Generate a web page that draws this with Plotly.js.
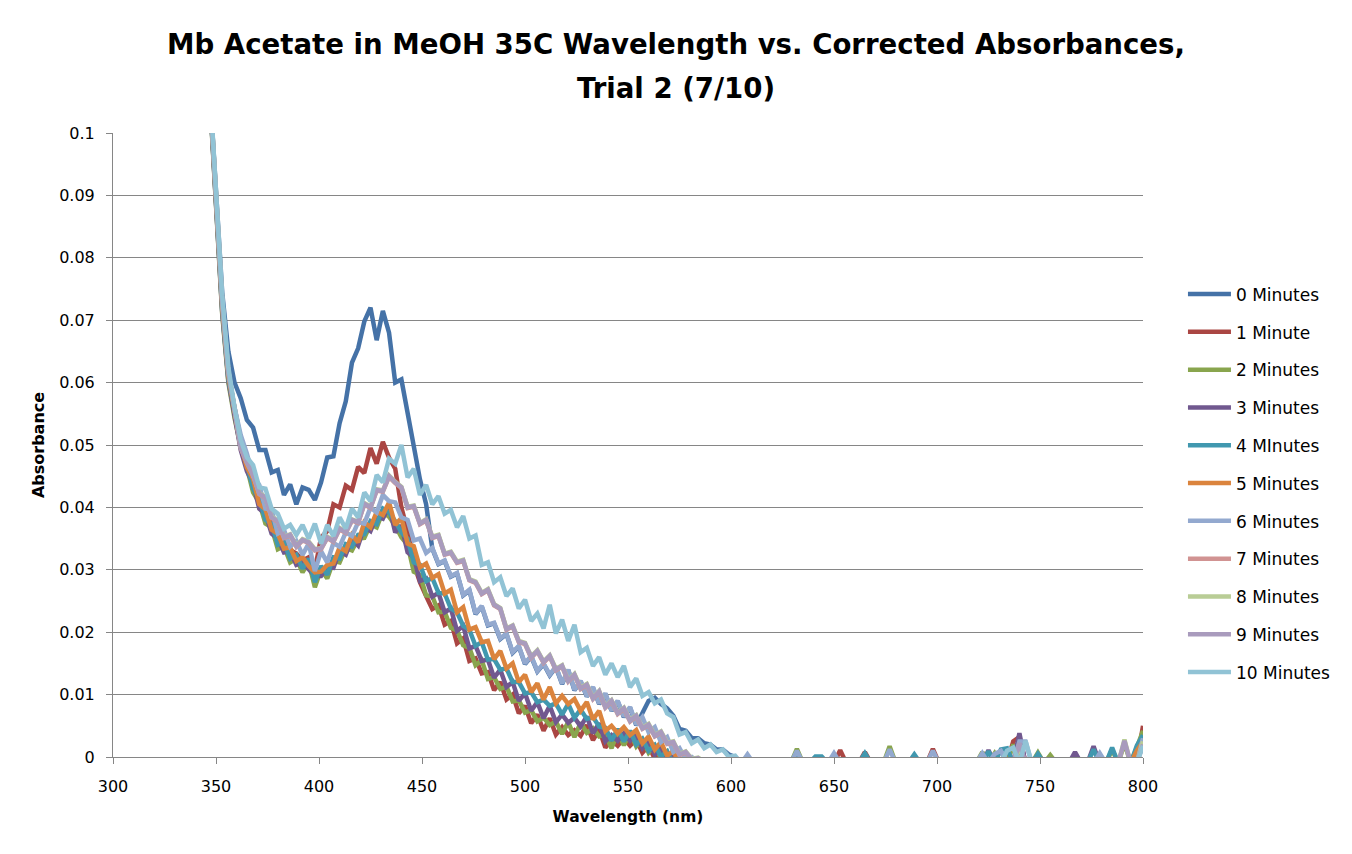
<!DOCTYPE html>
<html>
<head>
<meta charset="utf-8">
<script src="https://cdn.plot.ly/plotly-3.0.1.min.js"></script>
<style>html,body{margin:0;padding:0;background:#fff;}#chart{width:1352px;height:854px;}</style>
</head>
<body>
<div id="chart"></div>
<script>
// Wavelength (nm)
const wavelength = [
347,350,353,356,359,362,365,368,371,374,
377,380,383,386,389,392,395,398,401,404,
407,410,413,416,419,422,425,428,431,434,
437,440,443,446,449,452,455,458,461,464,
467,470,473,476,479,482,485,488,491,494,
497,500,503,506,509,512,515,518,521,524,
527,530,533,536,539,542,545,548,551,554,
557,560,563,566,569,572,575,578,581,584,
587,590,593,596,599,602,605,608,611,614,
617,620,623,626,629,632,635,638,641,644,
647,650,653,656,659,662,665,668,671,674,
677,680,683,686,689,692,695,698,701,704,
707,710,713,716,719,722,725,728,731,734,
737,740,743,746,749,752,755,758,761,764,
767,770,773,776,779,782,785,788,791,794,
797,800];

const seriesNames = ["0 Minutes","1 Minute","2 Minutes","3 Minutes","4 MInutes","5 Minutes","6 Minutes","7 Minutes","8 Minutes","9 Minutes","10 Minutes"];

const abs0min = [
.1070,.0915,.0745,.0650,.0600,.0575,.0540,.0528,.0492,.0492,
.0456,.0460,.0420,.0437,.0405,.0432,.0428,.0412,.0440,.0480,
.0482,.0535,.0570,.0632,.0655,.0698,.0720,.0668,.0715,.0680,
.0600,.0605,.0550,.0505,.0445,.0405,.0334,.0309,.0314,.0289,
.0294,.0259,.0267,.0229,.0241,.0211,.0214,.0189,.0197,.0167,
.0177,.0149,.0161,.0137,.0149,.0131,.0144,.0117,.0139,.0107,
.0121,.0097,.0111,.0085,.0101,.0074,.0089,.0064,.0079,.0051,
.0070,.0090,.0095,.0085,.0078,.0066,.0045,.0042,.0030,.0030,
.0022,.0020,.0012,.0012,.0004,.0000,-.001,-.001,-.001,-.001,
-.001,-.001,-.001,-.001,-.001,-.001,-.001,-.001,-.001,-.001,
-.001,-.001,-.001,-.001,-.001,-.001,-.001,-.001,-.001,-.001,
-.001,-.001,-.001,-.001,-.001,-.001,-.001,-.001,-.001,-.001,
-.001,-.001,-.001,-.001,-.001,-.001,-.001,-.001,-.001,.0012,
-.001,.0015,-.001,-.001,-.001,-.001,-.001,-.001,-.001,-.001,
-.001,-.001,-.001,-.001,-.001,-.001,-.001,-.001,-.001,-.001,
-.001,.0028];

const abs1min = [
.1066,.0898,.0722,.0612,.0558,.0508,.0474,.0445,.0416,.0394,
.0376,.0354,.0345,.0332,.0326,.0315,.0320,.0300,.0352,.0362,
.0405,.0400,.0435,.0428,.0465,.0455,.0495,.0470,.0505,.0480,
.0462,.0400,.0362,.0310,.0280,.0258,.0237,.0243,.0212,.0218,
.0182,.0190,.0154,.0158,.0134,.0136,.0107,.0120,.0092,.0100,
.0070,.0082,.0054,.0068,.0042,.0062,.0036,.0048,.0035,.0043,
.0034,.0051,.0027,.0044,.0015,.0027,.0018,.0030,.0018,.0028,
.0007,.0018,-.0003,.0009,-.0013,-.0005,-.0018,-.0012,-.0020,-.0014,
-.0021,-.0016,-.0021,-.0017,-.0022,-.001,-.001,-.001,-.001,-.001,
-.001,-.001,-.001,-.001,-.001,-.001,-.001,-.001,-.001,-.001,
-.001,-.001,.0011,-.001,-.001,-.001,.0008,-.001,-.001,-.001,
-.001,-.001,-.001,-.001,-.001,-.001,-.001,.0013,-.001,-.001,
-.001,-.001,-.001,-.001,-.001,-.001,-.001,-.001,-.001,-.001,
.0025,.0032,-.001,-.001,-.001,-.001,-.001,-.001,-.001,-.001,
-.001,-.001,-.001,-.001,-.001,-.001,-.001,-.001,-.001,-.001,
-.001,.0050];

const abs2min = [
.1058,.0886,.0710,.0600,.0543,.0497,.0464,.0424,.0408,.0374,
.0368,.0333,.0338,.0312,.0318,.0296,.0312,.0272,.0301,.0286,
.0314,.0312,.0335,.0331,.0350,.0351,.0373,.0368,.0393,.0385,
.0371,.0352,.0340,.0297,.0292,.0259,.0258,.0232,.0233,.0207,
.0203,.0179,.0175,.0147,.0155,.0125,.0128,.0109,.0113,.0089,
.0091,.0071,.0075,.0057,.0063,.0051,.0057,.0037,.0056,.0032,
.0055,.0039,.0046,.0033,.0036,.0014,.0039,.0019,.0039,.0017,
.0028,.0007,.0018,-.0002,.0008,-.0016,-.0010,-.0027,-.0012,-.0028,
-.0014,-.0029,-.0015,-.0029,-.0016,-.001,-.001,-.001,-.001,-.001,
-.001,-.001,-.001,-.001,-.001,.0013,-.001,-.001,-.001,-.001,
-.001,-.001,-.001,-.001,-.001,-.001,-.001,-.001,-.001,-.001,
.0017,-.001,-.001,-.001,-.001,-.001,-.001,-.001,-.001,-.001,
-.001,-.001,-.001,-.001,-.001,.0008,-.001,.0006,-.001,-.001,
.0020,-.001,-.001,-.001,.0007,-.001,.0003,-.001,-.001,-.001,
-.001,-.001,-.001,-.001,-.001,-.001,.0012,-.001,.0022,-.001,
.0015,.0042];

const abs3min = [
.1060,.0888,.0713,.0603,.0546,.0492,.0458,.0438,.0398,.0390,
.0358,.0350,.0328,.0330,.0308,.0312,.0301,.0290,.0290,.0304,
.0303,.0330,.0324,.0349,.0339,.0369,.0362,.0386,.0382,.0402,
.0360,.0371,.0328,.0320,.0282,.0286,.0257,.0263,.0232,.0238,
.0202,.0210,.0174,.0178,.0154,.0156,.0127,.0140,.0112,.0120,
.0090,.0102,.0074,.0088,.0062,.0082,.0056,.0068,.0055,.0063,
.0049,.0065,.0038,.0054,.0025,.0035,.0026,.0038,.0026,.0035,
.0014,.0025,.0004,.0016,-.0006,.0002,-.0020,-.0010,-.0020,-.0012,
-.0022,-.0012,-.0022,-.0014,-.0022,-.001,-.001,-.001,-.001,-.001,
-.001,-.001,-.001,-.001,-.001,-.001,-.001,-.001,-.001,-.001,
-.001,-.001,-.001,-.001,-.001,-.001,-.001,-.001,-.001,-.001,
-.001,-.001,-.001,-.001,-.001,-.001,-.001,-.001,-.001,-.001,
-.001,-.001,-.001,-.001,-.001,-.001,.0011,-.001,-.001,-.001,
-.001,.0038,-.001,-.001,-.001,-.001,-.001,-.001,-.001,-.001,
.0008,-.001,-.001,.0017,-.001,-.001,-.001,-.001,-.001,-.001,
-.001,.0030];

const abs4min = [
.1062,.0890,.0716,.0606,.0550,.0504,.0470,.0430,.0414,.0380,
.0374,.0340,.0344,.0318,.0324,.0302,.0318,.0280,.0306,.0292,
.0320,.0318,.0341,.0337,.0356,.0357,.0378,.0373,.0398,.0392,
.0378,.0360,.0350,.0312,.0308,.0282,.0287,.0263,.0262,.0238,
.0232,.0210,.0204,.0178,.0184,.0156,.0157,.0140,.0142,.0120,
.0120,.0102,.0104,.0088,.0092,.0082,.0086,.0068,.0085,.0063,
.0076,.0061,.0064,.0049,.0047,.0026,.0045,.0025,.0042,.0020,
.0029,.0010,.0019,.0001,.0009,-.0013,-.0004,-.0018,-.0006,-.0020,
-.0008,-.0020,-.0010,-.0020,-.0012,-.001,-.001,-.001,-.001,-.001,
-.001,-.001,-.001,-.001,-.001,.0008,-.001,-.001,.0001,.0001,
-.001,-.001,-.001,-.001,-.001,-.001,.0006,-.001,-.001,-.001,
-.001,-.001,-.001,-.001,.0004,-.001,-.001,-.001,-.001,-.001,
-.001,-.001,-.001,-.001,-.001,-.001,.0009,-.001,.0012,.0014,
-.001,-.001,-.001,-.001,.0005,-.001,-.001,-.001,-.001,-.001,
-.001,-.001,-.001,.0012,-.001,-.001,.0015,-.001,-.001,-.001,
.0018,.0035];

const abs5min = [
.1065,.0895,.0720,.0610,.0555,.0500,.0464,.0446,.0405,.0397,
.0364,.0358,.0334,.0336,.0314,.0320,.0306,.0296,.0297,.0308,
.0310,.0336,.0330,.0356,.0344,.0376,.0368,.0393,.0388,.0408,
.0372,.0383,.0342,.0338,.0304,.0310,.0287,.0293,.0262,.0268,
.0232,.0240,.0204,.0208,.0184,.0186,.0157,.0170,.0142,.0150,
.0120,.0132,.0104,.0118,.0092,.0112,.0086,.0098,.0085,.0093,
.0074,.0088,.0060,.0074,.0042,.0050,.0038,.0048,.0035,.0043,
.0022,.0033,.0012,.0024,.0002,.0010,-.0012,-.0004,-.0015,-.0006,
-.0016,-.0010,-.0018,-.0010,-.0018,-.001,-.001,-.001,-.001,-.001,
-.001,-.001,-.001,-.001,-.001,-.001,-.001,-.001,-.001,-.001,
-.001,-.001,-.001,-.001,-.001,-.001,-.001,-.001,-.001,-.001,
-.001,-.001,-.001,-.001,-.001,-.001,-.001,-.001,-.001,-.001,
-.001,-.001,-.001,-.001,-.001,-.001,-.001,-.001,-.001,-.001,
-.001,.0012,-.001,-.001,-.001,-.001,-.001,-.001,-.001,-.001,
-.001,-.001,-.001,-.001,-.001,-.001,-.001,-.001,-.001,-.001,
.0010,.0025];

const abs6min = [
.1068,.0905,.0728,.0615,.0560,.0516,.0486,.0450,.0436,.0398,
.0396,.0358,.0364,.0337,.0346,.0324,.0342,.0298,.0330,.0312,
.0343,.0337,.0360,.0354,.0376,.0374,.0400,.0392,.0420,.0410,
.0408,.0384,.0380,.0347,.0350,.0327,.0335,.0310,.0315,.0290,
.0295,.0260,.0268,.0230,.0242,.0212,.0215,.0190,.0198,.0168,
.0178,.0150,.0162,.0138,.0150,.0132,.0145,.0118,.0140,.0108,
.0122,.0098,.0112,.0086,.0102,.0075,.0090,.0065,.0080,.0052,
.0064,.0040,.0048,.0024,.0032,.0008,.0014,-.0004,.0000,-.0008,
-.0006,-.0012,-.0008,-.0013,-.0010,-.001,-.001,.0004,-.001,-.001,
-.001,-.001,-.001,-.001,-.001,.0010,-.001,-.001,-.001,-.001,
-.001,.0006,-.001,-.001,-.001,-.001,-.001,-.001,-.001,-.001,
.0012,-.001,-.001,-.001,-.001,-.001,-.001,.0010,-.001,-.001,
-.001,-.001,-.001,-.001,-.001,.0006,-.001,.0005,.0010,-.001,
-.001,.0025,.0025,-.001,-.001,-.001,-.001,-.001,-.001,-.001,
-.001,-.001,-.001,-.001,.0006,-.001,-.001,-.001,-.001,-.001,
-.001,.0030];

const abs7min = [
.1071,.0911,.0731,.0617,.0551,.0495,.0471,.0451,.0421,.0415,
.0383,.0377,.0351,.0355,.0337,.0347,.0343,.0331,.0333,.0351,
.0345,.0365,.0359,.0379,.0375,.0405,.0399,.0427,.0425,.0449,
.0439,.0431,.0399,.0401,.0373,.0379,.0351,.0354,.0324,.0327,
.0311,.0314,.0283,.0279,.0261,.0267,.0243,.0237,.0204,.0209,
.0184,.0181,.0159,.0169,.0151,.0161,.0139,.0145,.0121,.0131,
.0109,.0115,.0093,.0104,.0079,.0089,.0069,.0077,.0057,.0065,
.0045,.0051,.0033,.0039,.0021,.0023,.0003,.0007,-.0005,-.0003,
-.0009,-.0007,-.0013,-.0009,-.0014,-.001,-.001,-.001,-.001,-.001,
-.001,-.001,-.001,-.001,-.001,-.001,-.001,-.001,-.001,-.001,
-.001,-.001,-.001,-.001,-.001,-.001,-.001,-.001,-.001,-.001,
-.001,-.001,-.001,-.001,-.001,-.001,-.001,-.001,-.001,-.001,
-.001,-.001,-.001,-.001,-.001,-.001,-.001,-.001,-.001,-.001,
-.001,.0018,-.001,-.001,-.001,-.001,-.001,-.001,-.001,-.001,
-.001,-.001,-.001,-.001,-.001,-.001,-.001,-.001,-.001,-.001,
-.001,.0022];

const abs8min = [
.1073,.0913,.0733,.0619,.0553,.0497,.0473,.0453,.0423,.0417,
.0385,.0379,.0353,.0357,.0339,.0349,.0345,.0333,.0335,.0353,
.0347,.0367,.0361,.0381,.0377,.0407,.0401,.0429,.0427,.0451,
.0441,.0433,.0401,.0403,.0375,.0381,.0353,.0356,.0326,.0329,
.0313,.0316,.0285,.0281,.0263,.0269,.0245,.0239,.0206,.0211,
.0186,.0183,.0161,.0171,.0153,.0163,.0141,.0147,.0123,.0133,
.0111,.0117,.0095,.0106,.0081,.0091,.0071,.0079,.0059,.0067,
.0047,.0053,.0035,.0041,.0023,.0025,.0005,.0009,-.0003,-.0001,
-.0007,-.0005,-.0011,-.0007,-.0012,-.001,-.001,-.001,-.001,-.001,
-.001,-.001,-.001,-.001,-.001,-.001,-.001,-.001,-.001,-.001,
-.001,-.001,-.001,-.001,-.001,-.001,-.001,-.001,-.001,-.001,
-.001,-.001,-.001,-.001,-.001,-.001,-.001,-.001,-.001,-.001,
-.001,-.001,-.001,-.001,-.001,-.001,-.001,-.001,-.001,-.001,
-.001,.0015,-.001,-.001,-.001,-.001,-.001,-.001,-.001,-.001,
-.001,-.001,-.001,-.001,-.001,-.001,-.001,-.001,.0028,-.001,
-.001,.0025];

const abs9min = [
.1072,.0912,.0732,.0618,.0552,.0496,.0472,.0452,.0422,.0416,
.0384,.0378,.0352,.0356,.0338,.0348,.0344,.0332,.0334,.0352,
.0346,.0366,.0360,.0380,.0376,.0406,.0400,.0428,.0426,.0450,
.0440,.0432,.0400,.0402,.0374,.0380,.0352,.0355,.0325,.0328,
.0312,.0315,.0284,.0280,.0262,.0268,.0244,.0238,.0205,.0210,
.0185,.0182,.0160,.0170,.0152,.0162,.0140,.0146,.0122,.0132,
.0110,.0116,.0094,.0105,.0080,.0090,.0070,.0078,.0058,.0066,
.0046,.0052,.0034,.0040,.0022,.0024,.0004,.0008,-.0004,-.0002,
-.0008,-.0006,-.0012,-.0008,-.0013,-.001,-.001,-.001,-.001,-.001,
-.001,-.001,-.001,-.001,-.001,-.001,-.001,-.001,-.001,-.001,
-.001,-.001,-.001,-.001,-.001,-.001,-.001,-.001,-.001,-.001,
-.001,-.001,-.001,-.001,-.001,-.001,-.001,-.001,-.001,-.001,
-.001,-.001,-.001,-.001,-.001,-.001,-.001,-.001,-.001,-.001,
-.001,.0022,-.001,-.001,-.001,-.001,-.001,-.001,-.001,-.001,
-.001,-.001,-.001,-.001,-.001,-.001,-.001,-.001,.0026,-.001,
-.001,.0020];

const abs10min = [
.1075,.0920,.0740,.0625,.0560,.0508,.0480,.0468,.0432,.0430,
.0398,.0390,.0366,.0372,.0356,.0372,.0350,.0374,.0342,.0372,
.0354,.0384,.0366,.0398,.0384,.0424,.0410,.0452,.0440,.0478,
.0470,.0500,.0448,.0462,.0420,.0436,.0405,.0418,.0390,.0396,
.0368,.0386,.0350,.0355,.0308,.0312,.0280,.0288,.0258,.0270,
.0238,.0252,.0218,.0230,.0206,.0244,.0198,.0220,.0186,.0212,
.0168,.0175,.0146,.0160,.0132,.0150,.0128,.0146,.0112,.0126,
.0098,.0104,.0086,.0092,.0070,.0064,.0036,.0040,.0022,.0028,
.0014,.0020,.0008,.0012,.0000,.0002,-.001,-.001,-.001,-.001,
-.001,-.001,-.001,-.001,-.001,-.001,-.001,-.001,-.001,-.001,
-.001,-.001,-.001,-.001,-.001,-.001,-.001,-.001,-.001,-.001,
-.001,-.001,-.001,-.001,-.001,-.001,-.001,-.001,-.001,-.001,
-.001,-.001,-.001,-.001,-.001,-.001,-.001,-.001,-.001,.0010,
.0015,-.001,.0026,-.001,-.001,-.001,-.001,-.001,-.001,-.001,
-.001,-.001,-.001,-.001,-.001,-.001,-.001,-.001,-.001,-.001,
-.001,.0018];

const absorbanceSeries = [abs0min,abs1min,abs2min,abs3min,abs4min,abs5min,abs6min,abs7min,abs8min,abs9min,abs10min];

const lineColors = ["#4572A7","#AA4643","#89A54E","#71588F","#4198AF","#DB843D","#93A9CF","#D19392","#B9CD96","#A99BBD","#91C3D5"];

const FONT = "'DejaVu Sans', Verdana, sans-serif";

const traces = absorbanceSeries.map((ys, i) => ({
  type: "scatter",
  mode: "lines",
  x: wavelength,
  y: ys,
  name: seriesNames[i],
  legendgroup: "g" + i,
  line: {color: lineColors[i], width: 4.5},
  hoverinfo: "skip"
}));

const layout = {
  width: 1352,
  height: 854,
  paper_bgcolor: "#ffffff",
  plot_bgcolor: "#ffffff",
  margin: {l: 113, r: 209, t: 133, b: 97, pad: 0, autoexpand: false},
  font: {family: FONT, size: 16, color: "#000000"},
  title: {
    text: "<b><span style='font-size:27.6px'>Mb Acetate in MeOH 35C Wavelength vs. Corrected Absorbances,</span><br><span style='font-size:27.6px'>Trial 2 (7/10)</span></b>",
    font: {family: FONT, size: 34, color: "#000000"},
    x: 0.5, xref: "container", xanchor: "center",
    y: 0.937, yref: "container", yanchor: "top"
  },
  xaxis: {
    range: [300, 800],
    tick0: 300, dtick: 50,
    showgrid: false, zeroline: false,
    showline: true, linecolor: "#868686", linewidth: 1,
    ticks: "outside", ticklen: 6, tickcolor: "#868686",
    ticklabelstandoff: 9,
    tickfont: {family: FONT, size: 16, color: "#000"},
    title: {text: "<b>Wavelength (nm)</b>", font: {family: FONT, size: 15.5, color: "#000"}, standoff: 15}
  },
  yaxis: {
    range: [0, 0.1],
    tick0: 0, dtick: 0.01,
    showgrid: true, gridcolor: "#868686", gridwidth: 1,
    zeroline: false,
    showline: true, linecolor: "#868686", linewidth: 1,
    ticks: "outside", ticklen: 6, tickcolor: "#868686",
    ticklabelstandoff: 8,
    tickfont: {family: FONT, size: 16, color: "#000"},
    title: {text: "<b>Absorbance</b>", font: {family: FONT, size: 16, color: "#000"}, standoff: 10}
  },
  showlegend: true,
  legend: {
    x: 1.0388, xanchor: "left",
    y: 0.77, yanchor: "top",
    font: {family: FONT, size: 17, color: "#000"},
    tracegroupgap: 12.7,
    itemwidth: 43,
    bgcolor: "rgba(0,0,0,0)",
    borderwidth: 0
  }
};

Plotly.newPlot("chart", traces, layout, {staticPlot: true, displayModeBar: false});
</script>
</body>
</html>
